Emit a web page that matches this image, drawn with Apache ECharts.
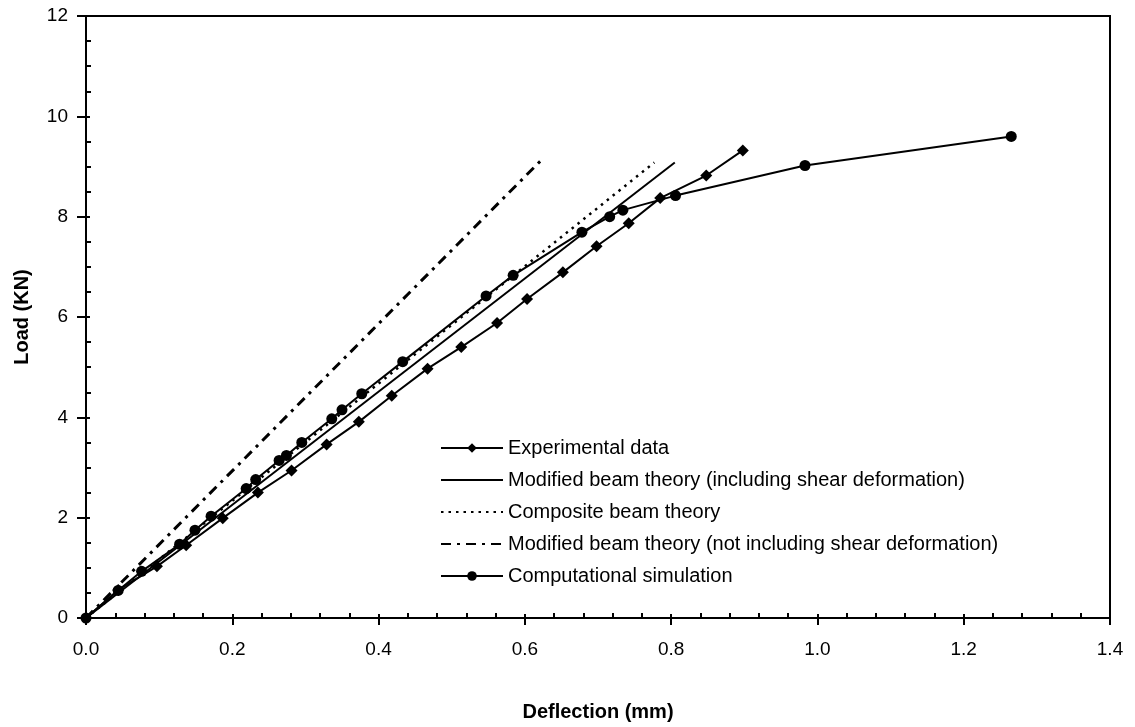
<!DOCTYPE html>
<html>
<head>
<meta charset="utf-8">
<script src="https://cdn.jsdelivr.net/npm/echarts@6/dist/echarts.min.js"></script>
<style>
html,body{margin:0;padding:0;background:#fff;}
#chart{width:1135px;height:727px;}
</style>
</head>
<body>
<div id="chart"></div>
<script>
// ---- data ----
const expX = [0, 0.044, 0.097, 0.137, 0.187, 0.235, 0.281, 0.329, 0.373, 0.418, 0.467, 0.513, 0.562, 0.603, 0.652, 0.698, 0.742, 0.785, 0.848, 0.898];
const expY = [0, 0.56, 1.03, 1.45, 1.99, 2.50, 2.94, 3.46, 3.91, 4.43, 4.97, 5.40, 5.88, 6.36, 6.89, 7.41, 7.87, 8.37, 8.82, 9.32];

const simX = [0, 0.044, 0.076, 0.128, 0.149, 0.171, 0.219, 0.232, 0.264, 0.274, 0.295, 0.336, 0.350, 0.377, 0.433, 0.547, 0.584, 0.678, 0.716, 0.734, 0.806, 0.983, 1.265];
const simY = [0, 0.55, 0.93, 1.47, 1.75, 2.03, 2.58, 2.76, 3.14, 3.24, 3.50, 3.97, 4.15, 4.47, 5.11, 6.42, 6.83, 7.69, 8.00, 8.13, 8.42, 9.02, 9.60];

const modShearX = [0, 0.805];
const modShearY = [0, 9.08];
const compositeX = [0, 0.777];
const compositeY = [0, 9.08];
const modNoShearX = [0, 0.622];
const modNoShearY = [0, 9.12];

const seriesNames = [
  'Experimental data',
  'Modified beam theory (including shear deformation)',
  'Composite beam theory',
  'Modified beam theory (not including shear deformation)',
  'Computational simulation'
];
const xTicks = [0.0, 0.2, 0.4, 0.6, 0.8, 1.0, 1.2, 1.4];
const yTicks = [0, 2, 4, 6, 8, 10, 12];

function zip(xs, ys) { return xs.map((x, i) => [x, ys[i]]); }

const FONT = 'Liberation Sans, Arial, sans-serif';
const chart = echarts.init(document.getElementById('chart'), null, {renderer: 'canvas'});

const xMain = {
  type: 'value', min: xTicks[0], max: xTicks[xTicks.length - 1], interval: 0.2,
  position: 'bottom',
  name: 'Deflection (mm)', nameLocation: 'middle', nameGap: 84,
  nameTextStyle: {fontFamily: FONT, fontSize: 20, fontWeight: 'bold', color: '#000'},
  axisLine: {show: true, lineStyle: {color: '#000', width: 2}},
  axisTick: {show: true, inside: true, length: 4, lineStyle: {color: '#000', width: 2}},
  minorTick: {show: true, splitNumber: 5, length: 5, lineStyle: {color: '#000', width: 2}},
  axisLabel: {show: true, margin: 22, color: '#000', fontFamily: FONT, fontSize: 19,
              formatter: v => v.toFixed(1)},
  splitLine: {show: false}
};
const xOuter = {
  type: 'value', min: xTicks[0], max: xTicks[xTicks.length - 1], interval: 0.2,
  position: 'bottom',
  axisLine: {show: false},
  axisTick: {show: true, inside: false, length: 7, lineStyle: {color: '#000', width: 2}},
  axisLabel: {show: false},
  splitLine: {show: false}
};
const yMain = {
  type: 'value', min: yTicks[0], max: yTicks[yTicks.length - 1], interval: 2,
  position: 'left',
  name: 'Load (KN)', nameLocation: 'middle', nameGap: 54,
  nameTextStyle: {fontFamily: FONT, fontSize: 20, fontWeight: 'bold', color: '#000'},
  axisLine: {show: true, lineStyle: {color: '#000', width: 2}},
  axisTick: {show: true, inside: true, length: 4, lineStyle: {color: '#000', width: 2}},
  minorTick: {show: true, splitNumber: 4, length: 5, lineStyle: {color: '#000', width: 2}},
  axisLabel: {show: true, margin: 18, color: '#000', fontFamily: FONT, fontSize: 19},
  splitLine: {show: false}
};
const yOuter = {
  type: 'value', min: yTicks[0], max: yTicks[yTicks.length - 1], interval: 2,
  position: 'left',
  axisLine: {show: false},
  axisTick: {show: true, inside: false, length: 9, lineStyle: {color: '#000', width: 2}},
  axisLabel: {show: false},
  splitLine: {show: false}
};

const noMarker = {opacity: 0};

const option = {
  animation: false,
  backgroundColor: '#fff',
  grid: {left: 86, right: 25, top: 16, bottom: 107, show: true,
         borderColor: '#000', borderWidth: 2, backgroundColor: 'transparent'},
  xAxis: [xMain, xOuter],
  yAxis: [yMain, yOuter],
  legend: {
    orient: 'vertical', left: 435, top: 433,
    itemWidth: 62, itemHeight: 12, itemGap: 12,
    textStyle: {fontFamily: FONT, fontSize: 20, color: '#000', lineHeight: 20},
    data: [
      {name: seriesNames[0]},
      {name: seriesNames[1], itemStyle: noMarker},
      {name: seriesNames[2], itemStyle: noMarker},
      {name: seriesNames[3], itemStyle: noMarker},
      {name: seriesNames[4]}
    ]
  },
  series: [
    {
      name: seriesNames[0], type: 'line', data: zip(expX, expY),
      symbol: 'diamond', symbolSize: 12, showSymbol: true,
      lineStyle: {color: '#000', width: 2}, itemStyle: {color: '#000'}, z: 5
    },
    {
      name: seriesNames[1], type: 'line', data: zip(modShearX, modShearY),
      symbol: 'none', showSymbol: false,
      lineStyle: {color: '#000', width: 2}, itemStyle: {color: '#000'}, z: 3
    },
    {
      name: seriesNames[2], type: 'line', data: zip(compositeX, compositeY),
      symbol: 'none', showSymbol: false,
      lineStyle: {color: '#000', width: 2.5, type: [2.5, 5]}, itemStyle: {color: '#000'}, z: 2
    },
    {
      name: seriesNames[3], type: 'line', data: zip(modNoShearX, modNoShearY),
      symbol: 'none', showSymbol: false,
      lineStyle: {color: '#000', width: 3, type: [10, 6, 3, 6]}, itemStyle: {color: '#000'}, z: 3
    },
    {
      name: seriesNames[4], type: 'line', data: zip(simX, simY),
      symbol: 'circle', symbolSize: 11, showSymbol: true,
      lineStyle: {color: '#000', width: 2}, itemStyle: {color: '#000'}, z: 6
    }
  ]
};
chart.setOption(option);
</script>
</body>
</html>
